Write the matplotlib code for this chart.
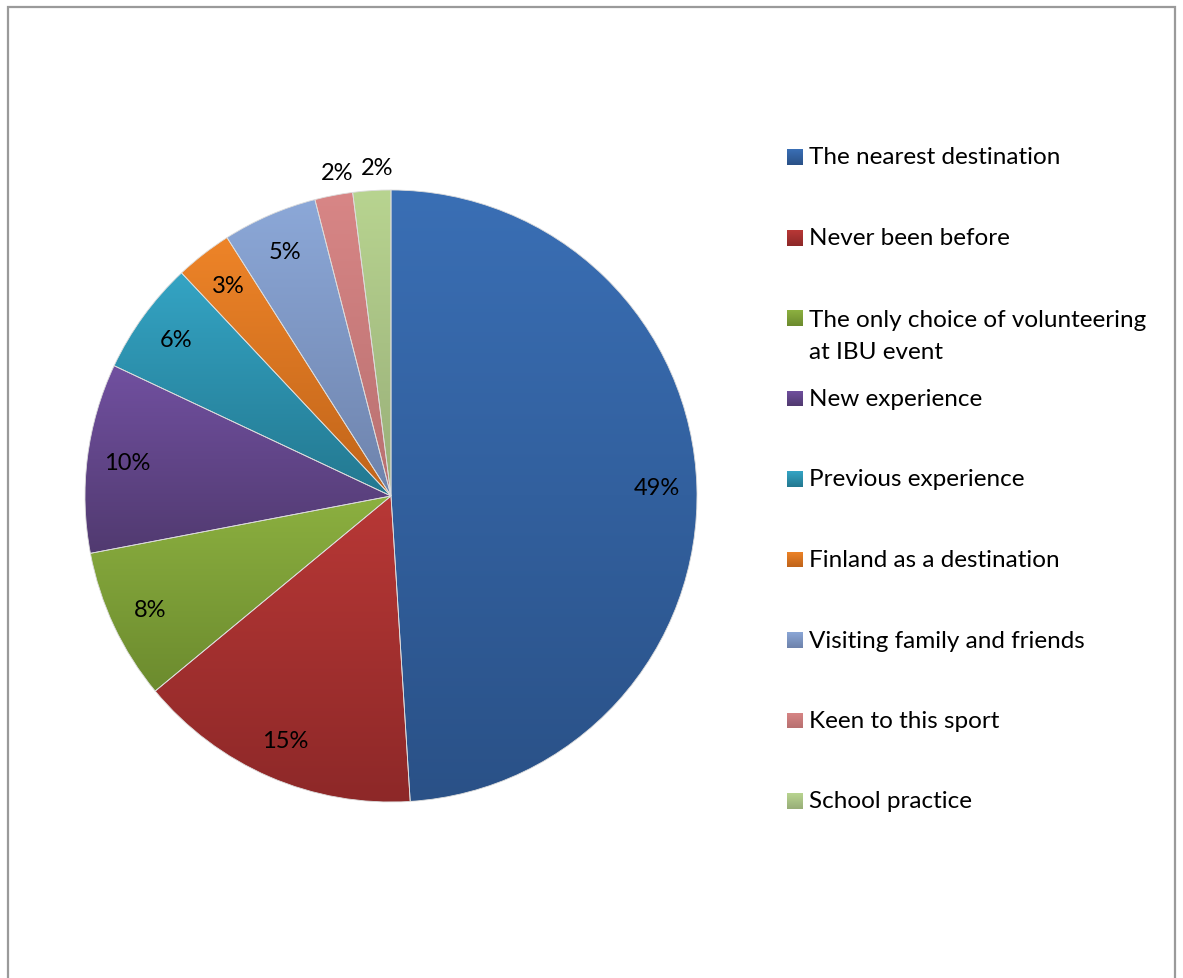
import matplotlib
matplotlib.use("Agg")
import matplotlib.pyplot as plt
import matplotlib.patches as mpatches
import numpy as np
from matplotlib.colors import LinearSegmentedColormap

plt.rcParams["font.family"] = ["Lato", "DejaVu Sans"]

categories = [
    "The nearest destination",
    "Never been before",
    "The only choice of volunteering\nat IBU event",
    "New experience",
    "Previous experience",
    "Finland as a destination",
    "Visiting family and friends",
    "Keen to this sport",
    "School practice",
]
shares = [49, 15, 8, 10, 6, 3, 5, 2, 2]

# light (top) / dark (bottom) shade of each slice
top_colors = ["#3a6fb5", "#b83836", "#8cb040", "#7150a0", "#34a4c4",
              "#ee8428", "#8ca8d8", "#d88686", "#b8d490"]
bottom_colors = ["#2a5187", "#8d2828", "#6c8b2e", "#513a70", "#237890",
                 "#c0641a", "#6e83ac", "#b87070", "#98ae78"]

W, H = 1183, 979
fig = plt.figure(figsize=(W / 100, H / 100), dpi=100)
fig.patch.set_facecolor("white")

# outer frame
fig.add_artist(mpatches.Rectangle((7.5 / W, -0.01), (1175 - 7.5) / W, (H - 7.5) / H + 0.01,
                                  transform=fig.transFigure, fill=False,
                                  edgecolor="#9a9a9a", linewidth=1.6))

cx, cy, r = 391, 497, 306
ax = fig.add_axes([(cx - r) / W, (H - cy - r) / H, 2 * r / W, 2 * r / H])
ax.set_aspect("equal")
ax.axis("off")

wedges, _ = ax.pie(shares, startangle=90, counterclock=False, radius=1,
                   colors=top_colors, wedgeprops={"linewidth": 0.6, "edgecolor": "#dcdcdc"})
ax.set_xlim(-1, 1)
ax.set_ylim(-1, 1)

# vertical gradient inside each wedge
for w, c0, c1 in zip(wedges, top_colors, bottom_colors):
    verts = w.get_path().vertices
    x0, x1 = verts[:, 0].min(), verts[:, 0].max()
    y0, y1 = verts[:, 1].min(), verts[:, 1].max()
    cmap = LinearSegmentedColormap.from_list("g", [c1, c0])
    grad = np.linspace(0, 1, 256).reshape(-1, 1)
    im = ax.imshow(grad, extent=[x0, x1, y0, y1], origin="lower", cmap=cmap,
                   aspect="auto", zorder=1.5)
    im.set_clip_path(w)
    w.set_facecolor("none")
    w.set_zorder(2)

# percentage labels; the two smallest slices get theirs outside
small_dx = [0.026, 0.023]
k = 0
for w, v in zip(wedges, shares):
    mid = np.deg2rad((w.theta1 + w.theta2) / 2)
    if v <= 2:
        rr, dx = 1.075, small_dx[k]
        k += 1
    else:
        rr, dx = 0.87, 0.0
    ax.text(rr * np.cos(mid) + dx, rr * np.sin(mid), f"{v}%", ha="center", va="center",
            fontsize=17, color="black", zorder=3, clip_on=False)

# legend
row_y = 158
for lab, c0, c1 in zip(categories, top_colors, bottom_colors):
    sq = fig.add_axes([787 / W, (H - row_y - 8) / H, 16 / W, 16 / H])
    sq.imshow(np.linspace(0, 1, 32).reshape(-1, 1),
              cmap=LinearSegmentedColormap.from_list("s", [c0, c1]), aspect="auto")
    sq.axis("off")
    if "\n" in lab:
        fig.text(809 / W, (H - row_y + 9) / H, lab, ha="left", va="top",
                 fontsize=17.5, color="black", linespacing=1.62)
    else:
        fig.text(809 / W, (H - row_y) / H, lab, ha="left", va="center",
                 fontsize=17.5, color="black")
    row_y += 80.5

fig.savefig("out.png", dpi=100)
